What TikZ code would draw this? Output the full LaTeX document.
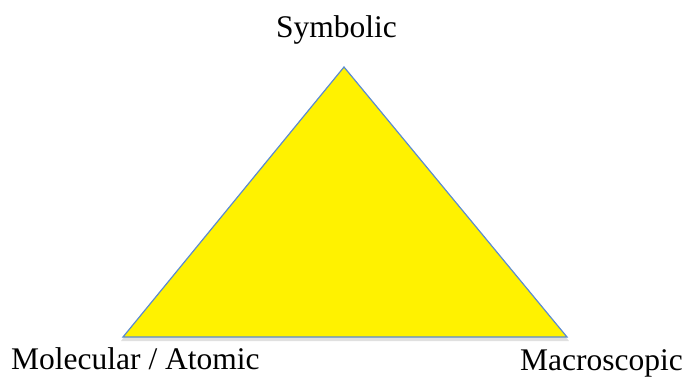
\documentclass[tikz,border=0pt]{standalone}
\usepackage{fontspec}
\setmainfont{Liberation Serif}
\begin{document}
\begin{tikzpicture}[x=1pt,y=-1pt,
  lbl/.style={inner sep=0pt,font=\fontsize{31.5}{36}\selectfont},
  tri/.style={fill=yellow,draw={rgb,255:red,91;green,139;blue,208},line width=1.2pt,line join=miter}]
\useasboundingbox (0,0) rectangle (688,376);
\coordinate (A) at (344,67);
\coordinate (B) at (123,337);
\coordinate (C) at (567,337);
\fill[black,opacity=0.12] (344,70) -- (121,341) -- (569,341) -- cycle;
\draw[tri] (A) -- (B) -- (C) -- cycle;
\node[lbl,anchor=base] (sym) at (336.5,37) {Symbolic};
\node[lbl,anchor=base west] (mol) at (11,369) {Molecular / Atomic};
\node[lbl,anchor=base east] (mac) at (683,370) {Macroscopic};
\end{tikzpicture}
\end{document}
